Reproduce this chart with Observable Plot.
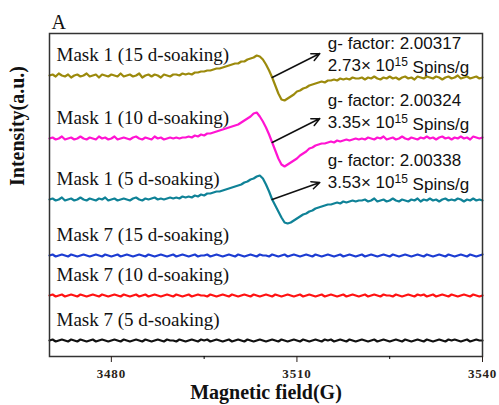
<!DOCTYPE html>
<html>
<head>
<meta charset="utf-8">
<script src="https://cdn.jsdelivr.net/npm/d3@7"></script>
<script src="https://cdn.jsdelivr.net/npm/@observablehq/plot@0.6"></script>
<style>
  html, body { margin: 0; padding: 0; background: #fff; }
  #chart svg { display: block; }
</style>
</head>
<body>
<div id="chart"></div>
<script>
// Magnetic field (G), sampled every 0.5 G
const field = [3470,3470.5,3471,3471.5,3472,3472.5,3473,3473.5,3474,3474.5,
3475,3475.5,3476,3476.5,3477,3477.5,3478,3478.5,3479,3479.5,
3480,3480.5,3481,3481.5,3482,3482.5,3483,3483.5,3484,3484.5,
3485,3485.5,3486,3486.5,3487,3487.5,3488,3488.5,3489,3489.5,
3490,3490.5,3491,3491.5,3492,3492.5,3493,3493.5,3494,3494.5,
3495,3495.5,3496,3496.5,3497,3497.5,3498,3498.5,3499,3499.5,
3500,3500.5,3501,3501.5,3502,3502.5,3503,3503.5,3504,3504.5,
3505,3505.5,3506,3506.5,3507,3507.5,3508,3508.5,3509,3509.5,
3510,3510.5,3511,3511.5,3512,3512.5,3513,3513.5,3514,3514.5,
3515,3515.5,3516,3516.5,3517,3517.5,3518,3518.5,3519,3519.5,
3520,3520.5,3521,3521.5,3522,3522.5,3523,3523.5,3524,3524.5,
3525,3525.5,3526,3526.5,3527,3527.5,3528,3528.5,3529,3529.5,
3530,3530.5,3531,3531.5,3532,3532.5,3533,3533.5,3534,3534.5,
3535,3535.5,3536,3536.5,3537,3537.5,3538,3538.5,3539,3539.5,
3540];

const seriesNames = [
  "Mask 1 (15 d-soaking)", "Mask 1 (10 d-soaking)", "Mask 1 (5 d-soaking)",
  "Mask 7 (15 d-soaking)", "Mask 7 (10 d-soaking)", "Mask 7 (5 d-soaking)"
];
const seriesColors = ["#9c8a0c", "#ff14d2", "#0f8297", "#1c3cd2", "#ff1212", "#111111"];

// Intensity (a.u.), traces stacked with offsets
const mask1_15d = [281,282,280,283,281,280,282,279,281,282,
280,281,283,280,281,282,279,282,281,280,
282,281,280,283,280,281,282,280,281,283,
279,281,282,280,282,281,279,282,281,280,
282,
282,281,283,282,283,282,284,284,285,285,
286,286,287,288,288,289,290,291,292,293,
293,295,295,297,298,299,301,300,297,292,
286,279,271,263,257,256,258,260,262,265,
266,268,269,271,272,273,274,275,274,276,
276,277,276,278,277,278,277,279,278,278,
279,277,279,278,280,278,277,279,278,280,
278,279,277,279,280,278,279,277,280,279,
278,280,279,278,280,279,277,279,280,278,
279,281,278,279,280,278,279,280,278,279];
const mask1_10d = [218,219,217,218,220,217,218,219,217,218,
220,218,217,219,218,217,220,218,219,217,
218,220,217,218,219,218,217,219,220,218,
217,219,218,217,220,218,219,217,218,219,
218,
219,218,219,219,220,219,221,220,222,221,
223,223,224,225,226,227,228,229,230,231,
232,234,236,238,240,243,244,240,235,229,
222,214,206,198,192,190,192,194,196,198,
201,203,205,208,209,211,212,213,213,214,
215,214,216,215,216,217,216,217,218,217,
218,217,219,218,217,219,218,220,217,218,
219,217,218,220,218,217,219,218,217,219,
218,220,218,219,217,219,220,218,219,217,
219,218,220,218,219,217,220,219,218,219];
const mask1_5d = [157,158,156,157,159,156,157,158,156,157,
159,157,156,158,157,156,158,157,159,156,
157,158,156,157,158,157,156,158,159,157,
156,158,157,158,159,157,158,157,158,159,
158,
159,158,160,159,160,159,161,160,162,161,
163,163,164,165,165,166,167,168,169,170,
171,172,174,175,177,178,180,181,178,172,
165,157,151,145,139,134,133,134,136,138,
140,142,143,145,146,148,149,150,151,152,
152,153,154,153,155,154,155,156,155,156,
156,157,155,156,158,155,156,157,155,156,
158,156,155,157,156,155,157,156,158,155,
157,156,158,156,157,155,157,158,156,157,
156,158,157,155,157,156,158,156,157,156];
const mask7_15d = [101,102,100,101,102,101,100,102,101,100,
101,102,101,100,101,102,101,100,102,101,
100,101,102,100,101,102,101,100,101,102,
101,100,102,101,100,101,102,101,100,101,
102,100,101,102,101,100,101,102,100,101,
101,102,100,101,102,101,100,101,102,101,
100,102,101,100,101,102,101,100,102,101,
101,100,102,101,100,101,102,100,101,102,
101,100,101,102,101,100,102,101,100,101,
102,101,100,101,102,100,101,102,101,100,
101,102,100,101,102,101,100,101,102,101,
100,102,101,100,101,102,101,100,101,102,
101,100,102,101,100,101,102,101,100,102,
101,100,101,102,101,100,102,101,100,101,
102];
const mask7_10d = [61,62,60,61,62,60,61,62,61,60,
62,61,60,61,62,61,60,62,61,60,
61,62,61,60,62,61,60,61,62,60,
61,62,60,61,62,61,60,61,62,61,
60,62,61,60,61,62,60,61,62,61,
61,60,62,61,60,61,62,61,60,62,
61,60,61,62,61,60,62,61,60,61,
62,61,60,62,61,60,61,62,61,60,
61,62,60,61,62,61,60,61,62,60,
61,62,61,60,61,62,60,61,62,61,
60,61,62,60,61,62,61,60,62,61,
61,60,62,61,60,61,62,61,60,62,
61,62,60,61,62,60,61,62,61,60,
62,61,60,61,62,61,60,62,61,60,
61];
const mask7_5d = [16,17,15,16,17,16,15,17,16,15,
17,16,15,16,17,15,16,17,16,15,
16,17,16,15,17,16,15,16,17,16,
15,17,16,15,16,17,16,15,17,16,
16,15,17,16,15,16,17,16,15,17,
16,17,15,16,17,16,15,16,17,15,
16,17,16,15,17,16,15,16,17,16,
15,16,17,16,15,17,16,15,16,17,
16,15,17,16,15,16,17,16,15,17,
16,17,15,16,17,16,15,17,16,15,
16,17,16,15,16,17,15,16,17,16,
15,16,17,16,15,17,16,15,16,17,
16,15,17,16,15,16,17,16,15,17,
16,17,16,15,16,17,15,16,17,16,
16];
const seriesValues = [mask1_15d, mask1_10d, mask1_5d, mask7_15d, mask7_10d, mask7_5d];

// Annotations (g-factor and spin concentration)
const gFactors = ["2.00317", "2.00324", "2.00338"];
const spins = ["2.73", "3.35", "3.53"];
const annotField = [3515, 3515, 3515];
const annotG_y = [308, 251, 191];
const annotS_y = [286, 229, 169];
const arrowFrom = [3506, 3506, 3506];
const arrowTo = [3513.7, 3513.7, 3513.7];
const arrowToY = [303, 238, 174];

const xTicks = [3480, 3510, 3540];
const xMinorTicks = [3495, 3525];

// Build tidy data
const data = [];
seriesNames.forEach((name, i) => {
  field.forEach((f, j) => data.push({series: name, field: f, v: seriesValues[i][j]}));
});
const labels = seriesNames.map((name, i) => ({name, field: field[0], v: seriesValues[i][0]}));
const annots = gFactors.map((g, i) => ({
  g: "g- factor: " + g,
  s: spins[i] + "\u00d7 10^15 Spins/g",
  x: annotField[i], yg: annotG_y[i], ys: annotS_y[i],
  x1: arrowFrom[i], y1: seriesValues[i][field.indexOf(arrowFrom[i])],
  x2: arrowTo[i], y2: arrowToY[i]
}));

const serif = "'Liberation Serif', 'Times New Roman', serif";
const sans = "'Liberation Sans', Arial, sans-serif";

const chart = Plot.plot({
  width: 499,
  height: 405,
  marginLeft: 49,
  marginRight: 17,
  marginTop: 33,
  marginBottom: 49,
  style: {background: "#fff", fontFamily: serif},
  x: {domain: [3470, 3540]},
  y: {domain: [0, 323], axis: null},
  color: {domain: seriesNames, range: seriesColors},
  marks: [
    Plot.line(data, {x: "field", y: "v", z: "series", stroke: "series", strokeWidth: 2.2}),
    Plot.text(labels, {x: "field", y: "v", text: "name", textAnchor: "start", lineAnchor: "bottom",
      dx: 7, dy: -15, fontSize: 19, fontFamily: serif, fill: "#111"}),
    Plot.arrow(annots, {x1: "x1", y1: "y1", x2: "x2", y2: "y2", stroke: "#111", strokeWidth: 1.5,
      headLength: 9, headAngle: 50}),
    Plot.text(annots, {x: "x", y: "yg", text: "g", textAnchor: "start", lineAnchor: "bottom",
      fontSize: 17, fontFamily: sans, fill: "#111"}),
    Plot.text(annots, {x: "x", y: "ys", text: "s", textAnchor: "start", lineAnchor: "bottom",
      fontSize: 17, fontFamily: sans, fill: "#111", className: "spins"}),
    Plot.frame({stroke: "#333", strokeWidth: 1.5}),
    Plot.axisX({ticks: xTicks, tickSize: 6, tickPadding: 6, tickFormat: d => String(d),
      fontSize: 13, fontFamily: serif, label: null, color: "#2a1f1a", className: "xmajor"}),
    Plot.axisX({ticks: xMinorTicks, tickSize: 3, tickFormat: () => "", label: null, className: "xminor"}),
    Plot.text(["Magnetic field(G)"], {frameAnchor: "bottom", dy: 42, lineAnchor: "bottom",
      fontSize: 20, fontWeight: "bold", fontFamily: serif, fill: "#111"}),
    Plot.text(["Intensity(a.u.)"], {frameAnchor: "left", dx: -32, dy: -9, rotate: -90,
      fontSize: 20, fontWeight: "bold", fontFamily: serif, fill: "#111"}),
    Plot.text(["A"], {frameAnchor: "top-left", dx: 2, dy: -5, lineAnchor: "bottom", textAnchor: "start",
      fontSize: 20, fontFamily: serif, fill: "#111"})
  ]
});

// superscript exponent in spin texts
d3.select(chart).selectAll("g.spins text").each(function() {
  const t = d3.select(this);
  const str = t.text();
  const m = str.match(/^(.*10)\^(\d+)(.*)$/);
  if (!m) return;
  t.text(null);
  t.append("tspan").text(m[1]);
  t.append("tspan").attr("dy", "-0.4em").attr("font-size", "12").text(m[2]);
  t.append("tspan").attr("dy", "0.4em").text(m[3]);
});
d3.select(chart).selectAll("g.xmajor text")
  .attr("font-weight", "bold").attr("letter-spacing", "0.8");

document.getElementById("chart").appendChild(chart);
</script>
</body>
</html>
